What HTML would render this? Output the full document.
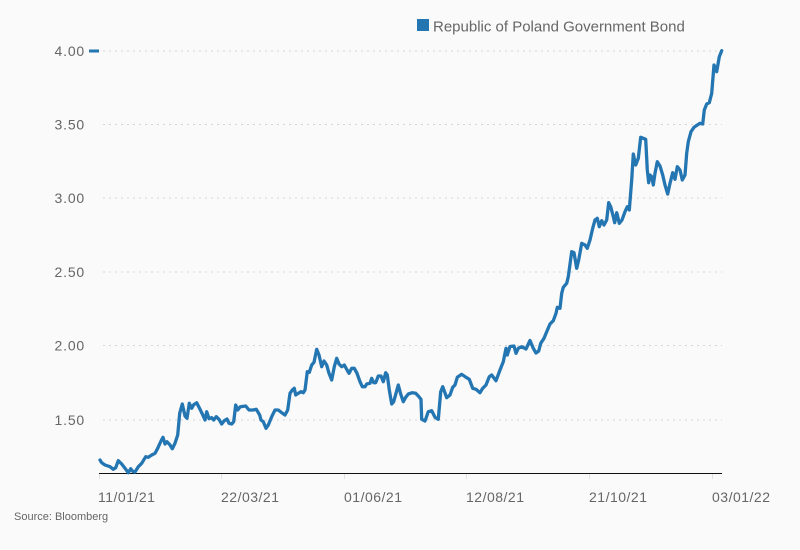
<!DOCTYPE html>
<html><head><meta charset="utf-8"><style>
html,body{margin:0;padding:0;background:#fafafa;}
svg{display:block;}
text{font-family:"Liberation Sans",sans-serif;fill:#666;}
</style></head><body>
<svg width="800" height="550" viewBox="0 0 800 550" xmlns="http://www.w3.org/2000/svg">
<rect width="800" height="550" fill="#fafafa"/>
<!-- legend -->
<rect x="417" y="19" width="12" height="12" fill="#2476b2"/>
<text x="433" y="31.5" font-size="15">Republic of Poland Government Bond</text>
<!-- grid -->
<g stroke="#d6d6d6" stroke-width="1" stroke-dasharray="2,4">
<line x1="103" y1="51" x2="722" y2="51"/>
<line x1="103" y1="124.5" x2="722" y2="124.5"/>
<line x1="103" y1="198" x2="722" y2="198"/>
<line x1="103" y1="272" x2="722" y2="272"/>
<line x1="103" y1="345.5" x2="722" y2="345.5"/>
<line x1="103" y1="420" x2="722" y2="420"/>
</g>
<!-- y labels -->
<g font-size="14" text-anchor="end" letter-spacing="0.8">
<text x="85" y="56">4.00</text>
<text x="85" y="129.5">3.50</text>
<text x="85" y="203">3.00</text>
<text x="85" y="277">2.50</text>
<text x="85" y="350.5">2.00</text>
<text x="85" y="425">1.50</text>
</g>
<rect x="89" y="49.5" width="10" height="3" fill="#2476b2"/>
<!-- axis -->
<line x1="99" y1="473.5" x2="722" y2="473.5" stroke="#111" stroke-width="1"/>
<g stroke="#e2e2e2" stroke-width="1">
<line x1="99.5" y1="474" x2="99.5" y2="479"/>
<line x1="221.5" y1="474" x2="221.5" y2="479"/>
<line x1="344.5" y1="474" x2="344.5" y2="479"/>
<line x1="466.5" y1="474" x2="466.5" y2="479"/>
<line x1="589.5" y1="474" x2="589.5" y2="479"/>
<line x1="712.5" y1="474" x2="712.5" y2="479"/>
</g>
<g font-size="14" letter-spacing="0.5">
<text x="98" y="502">11/01/21</text>
<text x="221" y="502">22/03/21</text>
<text x="344" y="502">01/06/21</text>
<text x="466" y="502">12/08/21</text>
<text x="589" y="502">21/10/21</text>
<text x="712" y="502">03/01/22</text>
</g>
<text x="14" y="520" font-size="11">Source: Bloomberg</text>
<!-- series -->
<polyline fill="none" stroke="#2476b2" stroke-width="3.3" stroke-linejoin="round" stroke-linecap="round" points="100,460 101.7,462.7 105,465 110,466.7 113.3,469.3 115.7,467.7 118.3,460.7 121.7,464 125,468.3 128.3,472.7 130.7,468.7 132.7,471.3 135,472 138.3,466.7 141.7,463.3 145.7,456.7 148.3,457.3 151.7,455 155,453.3 157.7,448.3 161,441 163,437.3 165,444 167,441.7 170,445 172.3,448.7 175,443.3 177.7,435 179.7,413.3 182.3,404 185,416 187,418.3 189.3,403.3 191.7,408.3 193.7,404.7 196.7,402.7 200,409.3 202.3,414 205,420 206.7,411.7 209,418.7 211.7,417.7 213.7,420 216.3,416.7 219,419.3 221.7,424 224.3,420.7 227,419 229,423.3 231.7,424 233.7,421.7 235.7,405 237.7,410 240.3,406.7 245.7,406 249,410 253,410 256.3,409.3 259.7,415 261,420 263.3,421.7 266,428.3 268.3,425 271.7,416.7 275,410 278.3,410 281.7,412.7 285,415 287.7,410 290,393.3 292.3,390 294.3,388.3 295.7,395 298.3,393.3 301,391.7 303.3,392.7 305,390 307.3,371.7 309.3,372.3 311.7,365 314,362.3 316.7,349.3 319,355 321.7,366.7 324,361 326.7,365 329,373.3 331.7,380 334.3,366.7 336.7,358.3 339,364 341.7,366.7 344.3,365 346.7,369.3 349,373.3 351.7,368.3 354.3,368.3 357,373.3 360,381.7 362.3,386.7 365,386.7 366.7,384 370,383.3 371.7,378.3 373.7,382.7 375.7,382.7 378.3,376 381,376 383.3,381.7 385.7,372.7 387.3,375 389.3,390 391.7,404 393.7,401.7 396,393.3 398.3,385 400.7,394 403.3,401.7 405.7,397.3 408.3,394 412.3,392.7 415.7,393.3 418.3,396 421,399.3 421.7,419.3 425,421 428.3,411.7 431.7,410.7 435,417.3 438.3,419.3 440.7,391.7 442.7,386.7 446.7,397.7 450,395 452.7,387.3 455,385 457.3,377.3 461.7,374.3 466,377.3 469.3,379.3 472.7,388.3 476,389.3 480,392.7 482.7,388.3 486,385 489.3,376.7 491.7,375 496,380.7 500,370 503.3,361.7 506,348.3 507.3,355 510,346.5 514,346 516,353.3 518.3,348.3 521.7,346.7 526,349 530,340.5 533.3,348.3 536,353 538.7,351 540.7,343.3 544,338.3 546.7,331.7 550,324 553.3,320.7 556,313.3 557.3,307.3 560,308.3 561.7,293.3 563.3,287.3 566.7,283.3 568.3,276.7 571.7,251.7 574,252.7 576.7,268.3 578.7,260 581.7,243.3 585,245 587.3,248.3 590,240 592.7,228.3 595,220 597.3,218.3 599.3,226.7 601.7,220.7 604,225 606.7,220 608.7,202.7 610.7,206.7 613.3,216.7 614.7,222.7 616.7,212.7 619.3,223.3 622,220 625,211.7 627.3,206.7 629.3,210 631.7,180 633.3,154 635.7,165 638.3,158.3 640.7,137.3 643.3,138.3 645.7,139.3 647.3,170 648.7,182.7 650,175 651.7,176.7 653.3,185 655,173.3 657.3,161.7 660,166 662.7,175 665,185 667.7,194 670,183.3 672.7,172.7 675,179.3 677.3,166.7 680,170 682.3,180 685,175 686.7,153.3 688.3,141.7 691,131.7 694,127.3 697.3,125 700,123.3 702.7,124 704.3,110 706.7,104 709.3,102.7 711.7,93.3 714,65 716.7,71.7 719.3,56.7 721.7,50.7"/>
</svg>
</body></html>
